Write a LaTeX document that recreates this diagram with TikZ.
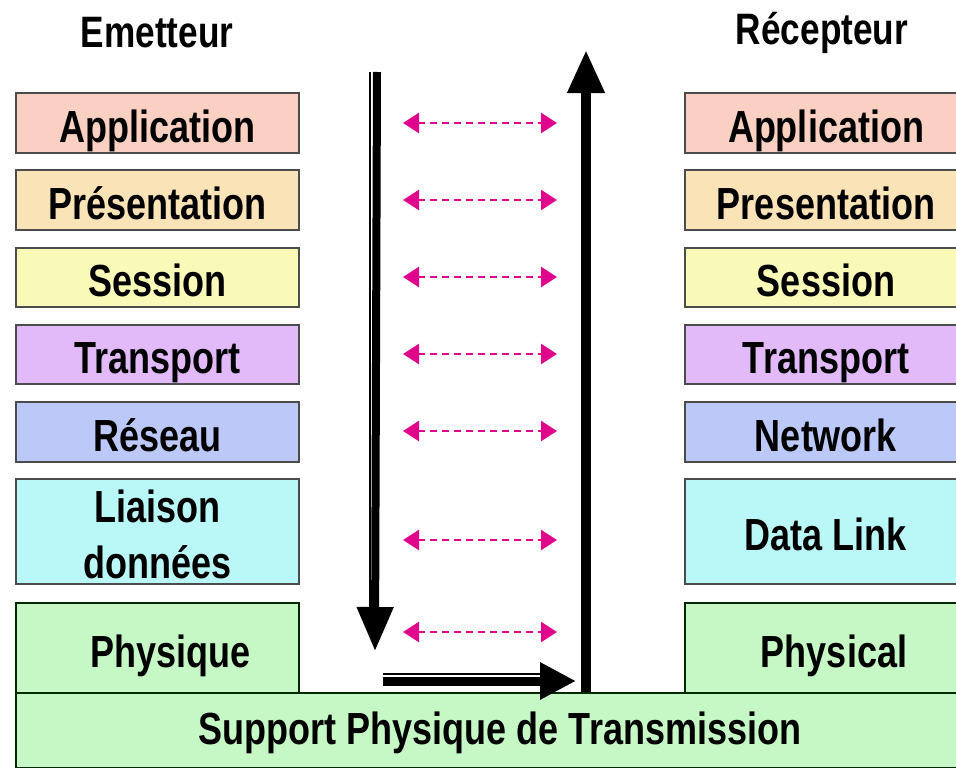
\documentclass[tikz,border=0pt]{standalone}
\usepackage{fontspec}
\setmainfont{Liberation Sans}[FakeStretch=0.8]
\usetikzlibrary{arrows.meta}

\definecolor{appcol}{HTML}{F9D0C2}
\definecolor{prescol}{HTML}{FBE3B8}
\definecolor{sesscol}{HTML}{FAFAB8}
\definecolor{transcol}{HTML}{E2BAFA}
\definecolor{netcol}{HTML}{BBC8F8}
\definecolor{linkcol}{HTML}{BAF8F8}
\definecolor{phycol}{HTML}{C6F8C6}
\definecolor{msgcol}{HTML}{E0068C}

\tikzset{
  layer/.style={draw=black!70, line width=1.2pt, inner sep=0pt, align=center,
    text height=38pt, text depth=0pt,
    font=\fontsize{45}{56}\selectfont\bfseries},
  twolines/.style={text height=93pt, text depth=0pt},
  leftbox/.style={layer, minimum width=283pt},
  rightbox/.style={layer, minimum width=282pt},
  title/.style={font=\fontsize{44}{52}\selectfont\bfseries},
  msg/.style={msgcol, line width=2.5pt, dash pattern=on 7pt off 5pt,
    {Triangle[width=20pt,length=16pt]}-{Triangle[width=20pt,length=16pt]}}
}

\begin{document}
\begin{tikzpicture}[x=1pt,y=-1pt]
      \useasboundingbox (0,0) rectangle (956,768);

      % Titles
      \node[title] (emet) at (157,33) {Emetteur};
      \node[title] (recep) at (822,33) {Récepteur};

      % Left stack (sender)
      \node[leftbox, fill=appcol, minimum height=60pt] (e1) at (157.5,123) {Application};
      \node[leftbox, fill=prescol, minimum height=60pt] (e2) at (157.5,200) {Présentation};
      \node[leftbox, fill=sesscol, minimum height=59pt] (e3) at (157.5,277.5) {Session};
      \node[leftbox, fill=transcol, minimum height=59pt] (e4) at (157.5,354.5) {Transport};
      \node[leftbox, fill=netcol, minimum height=60pt] (e5) at (157.5,432) {Réseau};
      \node[leftbox, twolines, fill=linkcol, minimum height=105pt] (e6) at (157.5,531.5) {Liaison\\données};
      \node[leftbox, fill=phycol, draw=black!60!green!40!black, minimum height=90pt] (e7) at (157.5,648) {\hspace*{26pt}Physique};

      % Right stack (receiver)
      \node[rightbox, fill=appcol, minimum height=60pt] (r1) at (826,123) {Application};
      \node[rightbox, fill=prescol, minimum height=60pt] (r2) at (826,200) {Presentation};
      \node[rightbox, fill=sesscol, minimum height=59pt] (r3) at (826,277.5) {Session};
      \node[rightbox, fill=transcol, minimum height=59pt] (r4) at (826,354.5) {Transport};
      \node[rightbox, fill=netcol, minimum height=60pt] (r5) at (826,432) {Network};
      \node[rightbox, fill=linkcol, minimum height=105pt] (r6) at (826,531.5) {Data Link};
      \node[rightbox, fill=phycol, draw=black!60!green!40!black, minimum height=90pt] (r7) at (826,648) {\hspace*{16pt}Physical};

      % Transmission medium
      \node[layer, text height=28pt, fill=phycol, draw=black!60!green!40!black, minimum width=950pt, minimum height=75pt] (support) at (491,730.5) {\hspace*{18pt}Support Physique de Transmission};

      % Peer-to-peer dialogue between layers
      \foreach \y [count=\i] in {123,200,277,354,431,540,632} {
        \coordinate (pl\i) at (403,\y);
        \coordinate (pr\i) at (557,\y);
        \draw[msg] (pl\i) -- (pr\i);
      }

      % Data going down, across, then up
      \coordinate (dtop) at (377,72);
      \coordinate (dbot) at (375,651);
      \draw[line width=1.5pt] (370,72) -- (370,607);
      \draw[line width=8pt, -{Triangle[width=35pt,length=44pt]}] (dtop) -- (dbot);

      \coordinate (hleft) at (383,681);
      \coordinate (hright) at (576,681);
      \draw[line width=1.5pt] (383,674) -- (540,674);
      \draw[line width=9pt, -{Triangle[width=35pt,length=36pt]}] (hleft) -- (hright);

      \coordinate (ubot) at (586,692);
      \coordinate (utop) at (586,50);
      \draw[line width=10pt, -{Triangle[width=35pt,length=43pt]}] (ubot) -- (utop);
    \end{tikzpicture}
\end{document}
